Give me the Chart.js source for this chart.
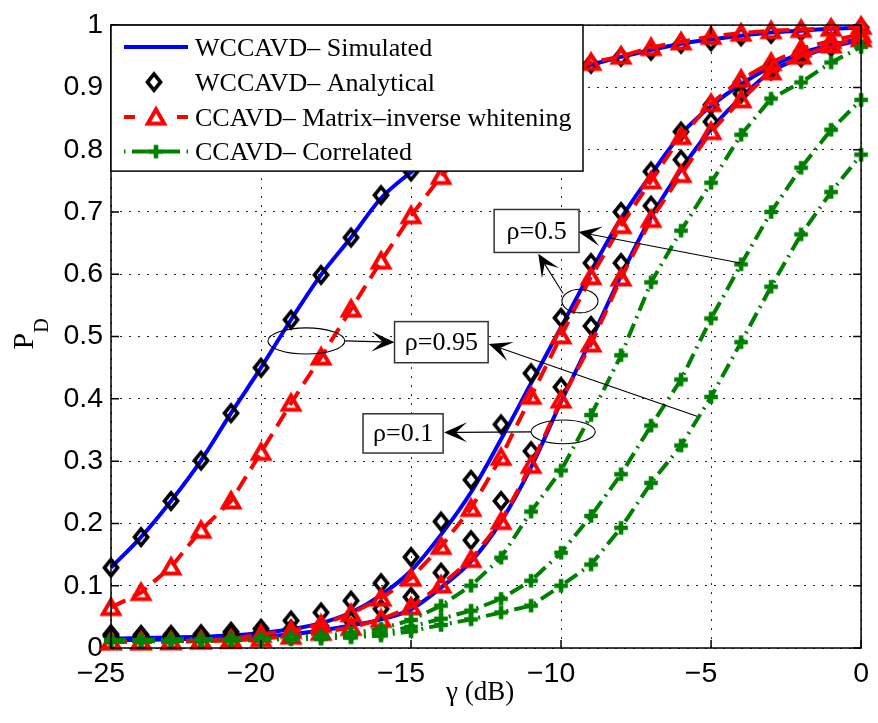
<!DOCTYPE html>
<html>
<head>
<meta charset="utf-8">
<script src="https://cdn.jsdelivr.net/npm/chart.js@4.4.0/dist/chart.umd.min.js"></script>
<style>
  body { margin: 0; background: #fff; }
  #wrap { width: 878px; height: 723px; }
</style>
</head>
<body>
<div id="wrap"><canvas id="pdChart" width="878" height="723"></canvas></div>
<script>
// SNR axis (dB)
const gammaDb = [-25, -24, -23, -22, -21, -20, -19, -18, -17, -16, -15, -14, -13,
                 -12, -11, -10, -9, -8, -7, -6, -5, -4, -3, -2, -1, 0];

// rho = 0.95
const simRho95 = [0.129, 0.178, 0.236, 0.301, 0.377, 0.450, 0.527, 0.599, 0.659, 0.722, 0.764, 0.802, 0.837,
                  0.868, 0.895, 0.918, 0.936, 0.949, 0.960, 0.970, 0.977, 0.983, 0.988, 0.991, 0.994, 0.996];
const anaRho95 = [0.129, 0.178, 0.236, 0.301, 0.377, 0.450, 0.527, 0.599, 0.659, 0.727, 0.765, 0.805, 0.840,
                  0.870, 0.895, 0.918, 0.938, 0.949, 0.959, 0.970, 0.974, 0.982, 0.986, 0.990, 0.993, 0.996];
const whtRho95 = [0.065, 0.089, 0.130, 0.189, 0.236, 0.314, 0.393, 0.467, 0.544, 0.621, 0.694, 0.757, 0.810,
                  0.855, 0.890, 0.918, 0.940, 0.950, 0.964, 0.973, 0.982, 0.987, 0.991, 0.993, 0.995, 0.998];
const corRho95 = [0.011, 0.011, 0.011, 0.012, 0.012, 0.013, 0.014, 0.015, 0.017, 0.020, 0.027, 0.037, 0.046,
                  0.057, 0.068, 0.100, 0.134, 0.193, 0.265, 0.325, 0.403, 0.491, 0.580, 0.664, 0.732, 0.792];

// rho = 0.5
const simRho05 = [0.015, 0.016, 0.017, 0.018, 0.020, 0.024, 0.030, 0.040, 0.057, 0.085, 0.124, 0.182, 0.250,
                  0.335, 0.425, 0.515, 0.605, 0.690, 0.760, 0.825, 0.870, 0.905, 0.933, 0.955, 0.968, 0.978];
const anaRho05 = [0.022, 0.021, 0.021, 0.022, 0.026, 0.031, 0.044, 0.057, 0.076, 0.104, 0.146, 0.203, 0.270,
                  0.359, 0.441, 0.530, 0.618, 0.700, 0.765, 0.829, 0.872, 0.908, 0.935, 0.955, 0.968, 0.978];
const whtRho05 = [0.010, 0.010, 0.011, 0.012, 0.014, 0.022, 0.028, 0.038, 0.055, 0.080, 0.112, 0.163, 0.224,
                  0.306, 0.404, 0.501, 0.596, 0.678, 0.750, 0.821, 0.874, 0.913, 0.940, 0.962, 0.975, 0.985];
const corRho05 = [0.012, 0.012, 0.012, 0.013, 0.013, 0.014, 0.015, 0.017, 0.019, 0.024, 0.034, 0.047, 0.060,
                  0.079, 0.108, 0.153, 0.212, 0.279, 0.357, 0.431, 0.529, 0.616, 0.700, 0.771, 0.832, 0.880];

// rho = 0.1
const simRho01 = [0.013, 0.013, 0.014, 0.015, 0.016, 0.018, 0.022, 0.028, 0.036, 0.046, 0.062, 0.097, 0.139,
                  0.203, 0.290, 0.395, 0.495, 0.598, 0.692, 0.768, 0.833, 0.884, 0.925, 0.948, 0.965, 0.976];
const anaRho01 = [0.019, 0.019, 0.019, 0.020, 0.022, 0.025, 0.030, 0.035, 0.044, 0.063, 0.082, 0.121, 0.173,
                  0.236, 0.316, 0.419, 0.517, 0.618, 0.710, 0.784, 0.845, 0.890, 0.927, 0.948, 0.965, 0.976];
const whtRho01 = [0.010, 0.010, 0.010, 0.011, 0.012, 0.015, 0.019, 0.025, 0.033, 0.046, 0.066, 0.101, 0.142,
                  0.203, 0.293, 0.398, 0.488, 0.594, 0.688, 0.760, 0.829, 0.880, 0.925, 0.950, 0.968, 0.978];
const corRho01 = [0.013, 0.013, 0.014, 0.014, 0.015, 0.016, 0.018, 0.020, 0.024, 0.031, 0.045, 0.068, 0.100,
                  0.145, 0.219, 0.285, 0.374, 0.470, 0.587, 0.670, 0.747, 0.824, 0.882, 0.908, 0.940, 0.965];

const legendLabels = ['WCCAVD\u2013 Simulated', 'WCCAVD\u2013 Analytical',
                      'CCAVD\u2013 Matrix\u2013inverse whitening', 'CCAVD\u2013 Correlated'];

// rho labels, ellipses and arrows, in axis units
const rhoBoxes = [
  { text: '\u03c1=0.95', x0: -15.55, x1: -12.43, yTop: 0.524, yBot: 0.458 },
  { text: '\u03c1=0.5',  x0: -12.23, x1: -9.40,  yTop: 0.704, yBot: 0.635 },
  { text: '\u03c1=0.1',  x0: -16.60, x1: -13.93, yTop: 0.376, yBot: 0.313 }
];
const rhoEllipses = [
  { cx: -18.49, cy: 0.493, rx: 1.28, ry: 0.021 },
  { cx: -9.37,  cy: 0.557, rx: 0.60, ry: 0.019 },
  { cx: -9.93,  cy: 0.347, rx: 1.07, ry: 0.019 }
];
const rhoArrows = [
  { from: [-17.20, 0.493], to: [-15.55, 0.491] },
  { from: [-5.47, 0.372],  to: [-12.41, 0.488] },
  { from: [-4.03, 0.618],  to: [-9.42, 0.668] },
  { from: [-9.93, 0.569],  to: [-10.76, 0.633] },
  { from: [-11.00, 0.347], to: [-13.90, 0.346] }
];

const serif = '"Liberation Serif", "Times New Roman", serif';
const sans = '"Liberation Sans", Arial, sans-serif';

// marker bitmaps
function makeMarker(w, h, draw) {
  const c = document.createElement('canvas');
  c.width = w; c.height = h;
  draw(c.getContext('2d'), w / 2, h / 2);
  return c;
}
function pathDiamond(g, cx, cy) {
  g.beginPath();
  g.moveTo(cx, cy - 8.2); g.lineTo(cx + 6.6, cy); g.lineTo(cx, cy + 8.2); g.lineTo(cx - 6.6, cy);
  g.closePath();
}
function pathTriangle(g, cx, cy) {
  g.beginPath();
  g.moveTo(cx, cy - 7.8); g.lineTo(cx + 8.2, cy + 6.6); g.lineTo(cx - 8.2, cy + 6.6);
  g.closePath();
}
function pathCross(g, cx, cy) {
  g.beginPath();
  g.moveTo(cx - 6.8, cy); g.lineTo(cx + 6.8, cy);
  g.moveTo(cx, cy - 6.8); g.lineTo(cx, cy + 6.8);
}
const diamondImg = makeMarker(28, 30, (g, cx, cy) => {
  g.strokeStyle = '#000'; g.lineWidth = 3.6; pathDiamond(g, cx, cy); g.stroke();
});
const triangleImg = makeMarker(32, 32, (g, cx, cy) => {
  g.strokeStyle = '#ff0000'; g.lineWidth = 4; pathTriangle(g, cx, cy); g.stroke();
});
const crossImg = makeMarker(22, 22, (g, cx, cy) => {
  g.strokeStyle = '#008000'; g.lineWidth = 4.6; pathCross(g, cx, cy); g.stroke();
});

function series(vals) {
  return gammaDb.map((g, i) => ({ x: g, y: vals[i] }));
}
function simSet(vals) {
  return { label: legendLabels[0], data: series(vals), borderColor: '#0000ff', borderWidth: 4,
           pointRadius: 0, cubicInterpolationMode: 'monotone', order: 4, clip: false };
}
function anaSet(vals) {
  return { label: legendLabels[1], data: series(vals), showLine: false, pointStyle: diamondImg,
           pointRadius: 8, order: 3, clip: false };
}
function whtSet(vals) {
  return { label: legendLabels[2], data: series(vals), borderColor: '#ff0000', borderWidth: 4,
           borderDash: [16, 9], tension: 0, pointStyle: triangleImg, pointRadius: 9, order: 2, clip: false };
}
function corSet(vals) {
  return { label: legendLabels[3], data: series(vals), borderColor: '#008000', borderWidth: 4,
           borderDash: [15, 6, 2, 6], tension: 0, pointStyle: crossImg, pointRadius: 7, order: 1, clip: false };
}

const datasets = [
  simSet(simRho95), simSet(simRho05), simSet(simRho01),
  anaSet(anaRho95), anaSet(anaRho05), anaSet(anaRho01),
  whtSet(whtRho95), whtSet(whtRho05), whtSet(whtRho01),
  corSet(corRho95), corSet(corRho05), corSet(corRho01)
];

// box with inward ticks on all four sides, plus axis titles
const framePlugin = {
  id: 'frame',
  afterDatasetsDraw(chart) {
    const { ctx, chartArea: a, scales: { x, y } } = chart;
    ctx.save();
    ctx.strokeStyle = '#000';
    ctx.lineWidth = 1.5;
    ctx.strokeRect(a.left, a.top, a.right - a.left, a.bottom - a.top);
    ctx.beginPath();
    x.ticks.forEach(t => {
      const px = x.getPixelForValue(t.value);
      ctx.moveTo(px, a.bottom); ctx.lineTo(px, a.bottom - 8);
      ctx.moveTo(px, a.top); ctx.lineTo(px, a.top + 8);
    });
    y.ticks.forEach(t => {
      const py = y.getPixelForValue(t.value);
      ctx.moveTo(a.left, py); ctx.lineTo(a.left + 8, py);
      ctx.moveTo(a.right, py); ctx.lineTo(a.right - 8, py);
    });
    ctx.stroke();

    // x title
    ctx.fillStyle = '#000';
    ctx.font = `27px ${serif}`;
    ctx.textAlign = 'left';
    ctx.textBaseline = 'alphabetic';
    ctx.fillText('\u03b3 (dB)', 446, 700);

    // y title: P with subscript D
    ctx.translate(33.3, 349.5);
    ctx.rotate(-Math.PI / 2);
    ctx.font = `30px ${serif}`;
    ctx.fillText('P', 0, 0);
    const pw = ctx.measureText('P').width;
    ctx.font = `20px ${serif}`;
    ctx.fillText('D', pw, 15);
    ctx.restore();
  }
};

function drawArrow(ctx, x1, y1, x2, y2) {
  const ang = Math.atan2(y2 - y1, x2 - x1);
  const len = 23, half = 10, notch = 12;
  const c = Math.cos(ang), s = Math.sin(ang);
  ctx.beginPath();
  ctx.moveTo(x1, y1);
  ctx.lineTo(x2 - c * notch, y2 - s * notch);
  ctx.stroke();
  ctx.beginPath();
  ctx.moveTo(x2, y2);
  ctx.lineTo(x2 - c * len - s * half, y2 - s * len + c * half);
  ctx.lineTo(x2 - c * notch, y2 - s * notch);
  ctx.lineTo(x2 - c * len + s * half, y2 - s * len - c * half);
  ctx.closePath();
  ctx.fill();
}

// legend box and rho annotations
const notesPlugin = {
  id: 'notes',
  afterDraw(chart) {
    const { ctx, chartArea: a, scales: { x, y } } = chart;
    ctx.save();

    // ellipses and arrows
    ctx.strokeStyle = '#000';
    ctx.fillStyle = '#000';
    ctx.lineWidth = 1.1;
    rhoEllipses.forEach(e => {
      const cx = x.getPixelForValue(e.cx), cy = y.getPixelForValue(e.cy);
      const rx = x.getPixelForValue(e.cx + e.rx) - cx;
      const ry = cy - y.getPixelForValue(e.cy + e.ry);
      ctx.beginPath();
      ctx.ellipse(cx, cy, rx, ry, 0, 0, Math.PI * 2);
      ctx.stroke();
    });
    rhoArrows.forEach(r => {
      drawArrow(ctx, x.getPixelForValue(r.from[0]), y.getPixelForValue(r.from[1]),
                x.getPixelForValue(r.to[0]), y.getPixelForValue(r.to[1]));
    });

    // labelled boxes
    ctx.font = `26px ${serif}`;
    ctx.textAlign = 'center';
    ctx.textBaseline = 'middle';
    rhoBoxes.forEach(b => {
      const l = x.getPixelForValue(b.x0), r = x.getPixelForValue(b.x1);
      const t = y.getPixelForValue(b.yTop), btm = y.getPixelForValue(b.yBot);
      ctx.fillStyle = '#fff';
      ctx.fillRect(l, t, r - l, btm - t);
      ctx.strokeStyle = '#333';
      ctx.lineWidth = 1.5;
      ctx.strokeRect(l, t, r - l, btm - t);
      ctx.fillStyle = '#000';
      ctx.fillText(b.text, (l + r) / 2, (t + btm) / 2 + 1);
    });

    // legend
    const lx = a.left, ly = a.top, lw = 472, lh = 146;
    ctx.fillStyle = '#fff';
    ctx.fillRect(lx, ly, lw, lh);
    ctx.strokeStyle = '#000';
    ctx.lineWidth = 1.5;
    ctx.strokeRect(lx, ly, lw, lh);

    const rows = [ly + 22, ly + 57, ly + 92, ly + 126.5];
    const s0 = lx + 13, s1 = lx + 77, sm = lx + 45;
    ctx.lineWidth = 4;
    ctx.strokeStyle = '#0000ff';
    ctx.beginPath(); ctx.moveTo(s0, rows[0]); ctx.lineTo(s1, rows[0]); ctx.stroke();
    ctx.drawImage(diamondImg, sm - 2 - diamondImg.width / 2, rows[1] - diamondImg.height / 2);
    ctx.strokeStyle = '#ff0000';
    ctx.beginPath();
    ctx.moveTo(s0, rows[2]); ctx.lineTo(s0 + 11, rows[2]);
    ctx.moveTo(s1 - 11, rows[2]); ctx.lineTo(s1, rows[2]);
    ctx.stroke();
    ctx.drawImage(triangleImg, sm - triangleImg.width / 2, rows[2] - triangleImg.height / 2);
    ctx.strokeStyle = '#008000';
    ctx.beginPath();
    ctx.moveTo(s0, rows[3]); ctx.lineTo(s0 + 1.5, rows[3]);
    ctx.moveTo(s0 + 8, rows[3]); ctx.lineTo(s0 + 26, rows[3]);
    ctx.moveTo(s1 - 26, rows[3]); ctx.lineTo(s1 - 8, rows[3]);
    ctx.moveTo(s1 - 1.5, rows[3]); ctx.lineTo(s1, rows[3]);
    ctx.stroke();
    ctx.drawImage(crossImg, sm - crossImg.width / 2, rows[3] - crossImg.height / 2);

    ctx.fillStyle = '#000';
    ctx.font = `26px ${serif}`;
    ctx.textAlign = 'left';
    ctx.textBaseline = 'alphabetic';
    legendLabels.forEach((t, i) => ctx.fillText(t, lx + 84, rows[i] + 8.6));
    ctx.restore();
  }
};

new Chart(document.getElementById('pdChart'), {
  type: 'line',
  data: { datasets },
  options: {
    responsive: false,
    animation: false,
    events: [],
    layout: { padding: { left: 0, right: 11, top: 17, bottom: 0 } },
    plugins: { legend: { display: false }, tooltip: { enabled: false } },
    scales: {
      x: {
        type: 'linear', min: -25, max: 0,
        afterFit(scale) { scale.height = 75; },
        grid: { color: '#222', lineWidth: 1, drawTicks: false },
        border: { display: false, dash: [2, 7] },
        ticks: {
          stepSize: 5, padding: 9, color: '#000', font: { family: sans, size: 28.5 },
          callback: v => v < 0 ? '\u2212' + Math.abs(v) + '\u2002\u2009' : String(v)
        }
      },
      y: {
        type: 'linear', min: 0, max: 1,
        afterFit(scale) { scale.width = 111; },
        grid: { color: '#222', lineWidth: 1, drawTicks: false },
        border: { display: false, dash: [2, 7] },
        ticks: {
          stepSize: 0.1, padding: 8, color: '#000', font: { family: sans, size: 28.5 },
          callback: v => String(Math.round(v * 10) / 10)
        }
      }
    }
  },
  plugins: [framePlugin, notesPlugin]
});
</script>
</body>
</html>
